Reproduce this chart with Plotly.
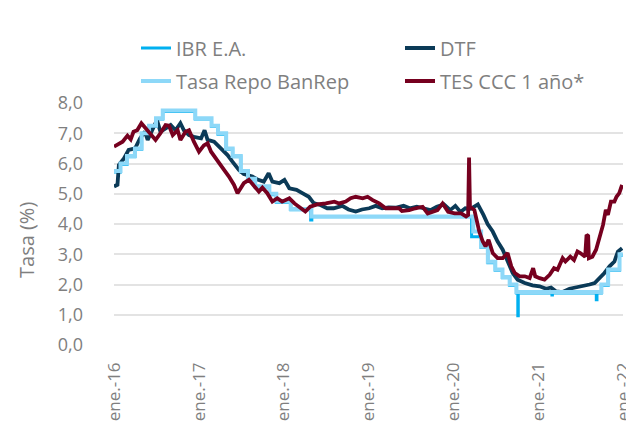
import plotly.graph_objects as go

# ---------------- data ----------------
repo_dates = ["2016-01-01", "2016-01-29", "2016-02-26", "2016-03-31", "2016-04-29", "2016-05-31",
              "2016-06-30", "2016-07-29", "2016-12-16", "2017-02-24", "2017-03-24", "2017-04-28",
              "2017-05-26", "2017-06-30", "2017-07-31", "2017-08-31", "2017-10-31", "2017-11-30",
              "2018-01-31", "2018-04-30", "2020-03-27", "2020-04-30", "2020-05-29", "2020-06-30",
              "2020-07-31", "2020-08-31", "2020-09-29", "2021-09-30", "2021-10-29", "2021-12-17",
              "2021-12-31"]
repo_vals = [5.75, 6.00, 6.25, 6.50, 7.00, 7.25, 7.50, 7.75, 7.50, 7.25, 7.00, 6.50,
             6.25, 5.75, 5.50, 5.25, 5.00, 4.75, 4.50, 4.25, 3.75, 3.25, 2.75, 2.50,
             2.25, 2.00, 1.75, 2.00, 2.50, 3.00, 3.00]

ibr_dates = ["2016-01-01", "2016-01-29", "2016-02-26", "2016-03-31", "2016-04-29", "2016-05-31",
             "2016-06-30", "2016-07-29", "2016-12-16", "2017-02-24", "2017-03-24", "2017-04-28",
             "2017-05-26", "2017-06-30", "2017-07-31", "2017-08-31", "2017-10-31", "2017-11-30",
             "2018-01-31", "2018-04-27", "2018-05-02", "2020-03-20", "2020-04-30", "2020-05-29",
             "2020-06-30", "2020-07-31", "2020-08-31", "2020-09-29", "2020-10-05", "2020-10-07",
             "2021-03-01", "2021-03-03", "2021-09-08", "2021-09-11", "2021-09-30", "2021-10-29",
             "2021-12-17", "2021-12-31"]
ibr_vals = [5.72, 5.97, 6.22, 6.47, 6.97, 7.22, 7.47, 7.72, 7.47, 7.22, 6.97, 6.47,
            6.22, 5.72, 5.47, 5.22, 4.97, 4.72, 4.47, 4.13, 4.24, 3.58, 3.22, 2.72,
            2.47, 2.22, 1.97, 1.72, 0.97, 1.72, 1.65, 1.72, 1.50, 1.72, 1.97, 2.47,
            2.97, 2.97]

dtf_dates = ["2016-01-01", "2016-01-16", "2016-01-22", "2016-02-13", "2016-03-04", "2016-04-01",
             "2016-04-22", "2016-05-13", "2016-05-25", "2016-06-16", "2016-07-04", "2016-07-19",
             "2016-08-10", "2016-09-01", "2016-09-22", "2016-10-13", "2016-10-28", "2016-11-19",
             "2016-12-10", "2017-01-10", "2017-01-25", "2017-02-07", "2017-03-07", "2017-04-04",
             "2017-05-04", "2017-05-25", "2017-06-22", "2017-07-13", "2017-07-28", "2017-08-19",
             "2017-09-13", "2017-10-07", "2017-10-28", "2017-11-13", "2017-12-13", "2018-01-04",
             "2018-01-25", "2018-02-25", "2018-03-22", "2018-04-19", "2018-05-10", "2018-06-10",
             "2018-07-07", "2018-08-04", "2018-09-10", "2018-10-07", "2018-11-07", "2018-12-04",
             "2019-01-04", "2019-02-01", "2019-03-01", "2019-03-28", "2019-05-01", "2019-06-01",
             "2019-06-28", "2019-07-28", "2019-08-25", "2019-09-25", "2019-10-22", "2019-11-22",
             "2019-12-19", "2020-01-10", "2020-02-01", "2020-02-22", "2020-03-16", "2020-04-16",
             "2020-05-10", "2020-05-28", "2020-06-19", "2020-07-10", "2020-08-01", "2020-08-22",
             "2020-09-13", "2020-10-04", "2020-11-04", "2020-12-07", "2021-01-07", "2021-02-04",
             "2021-02-25", "2021-03-19", "2021-04-16", "2021-05-16", "2021-06-13", "2021-07-10",
             "2021-08-10", "2021-09-01", "2021-09-22", "2021-10-13", "2021-11-04", "2021-11-25",
             "2021-12-10", "2021-12-28"]
dtf_vals = [5.24, 5.30, 5.95, 6.17, 6.45, 6.50,
            6.83, 7.05, 6.78, 7.16, 7.44, 7.05,
            7.16, 7.27, 7.10, 7.33, 7.10, 6.94,
            6.88, 6.83, 7.10, 6.78, 6.72, 6.50,
            6.28, 6.06, 5.79, 5.65, 5.62, 5.57,
            5.46, 5.40, 5.68, 5.40, 5.35, 5.46,
            5.18, 5.13, 5.02, 4.90, 4.69, 4.62,
            4.52, 4.52, 4.60, 4.48, 4.41, 4.48,
            4.52, 4.60, 4.52, 4.55, 4.54, 4.60,
            4.52, 4.57, 4.52, 4.46, 4.57, 4.65,
            4.46, 4.60, 4.40, 4.52, 4.50, 4.65,
            4.30, 4.00, 3.75, 3.42, 3.15, 2.76,
            2.38, 2.16, 2.05, 1.97, 1.94, 1.86,
            1.90, 1.77, 1.75, 1.86, 1.90, 1.97,
            2.00, 2.05, 2.21, 2.38, 2.60, 2.76,
            3.09, 3.20]

tes_dates = ["2016-01-01", "2016-02-07", "2016-02-28", "2016-03-13", "2016-03-25", "2016-04-10",
             "2016-04-28", "2016-05-13", "2016-06-07", "2016-06-28", "2016-07-19", "2016-08-10",
             "2016-08-25", "2016-09-10", "2016-10-01", "2016-10-13", "2016-11-04", "2016-11-19",
             "2016-12-10", "2017-01-01", "2017-01-22", "2017-02-07", "2017-02-22", "2017-03-13",
             "2017-04-04", "2017-04-19", "2017-05-10", "2017-06-01", "2017-06-16", "2017-06-28",
             "2017-07-13", "2017-08-04", "2017-08-25", "2017-09-16", "2017-10-01", "2017-10-22",
             "2017-11-13", "2017-12-04", "2017-12-25", "2018-01-25", "2018-02-16", "2018-03-07",
             "2018-04-04", "2018-04-25", "2018-05-25", "2018-07-01", "2018-08-07", "2018-08-28",
             "2018-09-25", "2018-10-16", "2018-11-07", "2018-12-07", "2018-12-28", "2019-01-19",
             "2019-02-16", "2019-03-16", "2019-04-13", "2019-05-13", "2019-05-25", "2019-06-25",
             "2019-07-22", "2019-08-22", "2019-09-13", "2019-10-04", "2019-10-25", "2019-11-16",
             "2019-12-10", "2020-01-07", "2020-02-04", "2020-02-25", "2020-03-05", "2020-03-09",
             "2020-03-13", "2020-04-01", "2020-04-10", "2020-04-22", "2020-05-07", "2020-05-19",
             "2020-06-01", "2020-06-19", "2020-07-10", "2020-08-01", "2020-08-22", "2020-09-07",
             "2020-09-22", "2020-10-13", "2020-11-04", "2020-11-25", "2020-12-10", "2020-12-19",
             "2021-01-07", "2021-01-28", "2021-02-19", "2021-03-10", "2021-03-25", "2021-04-16",
             "2021-04-28", "2021-05-19", "2021-06-04", "2021-06-19", "2021-07-01", "2021-07-22",
             "2021-07-28", "2021-08-04", "2021-08-07", "2021-08-22", "2021-09-07", "2021-09-22",
             "2021-10-07", "2021-10-19", "2021-10-28", "2021-11-10", "2021-11-25", "2021-12-04",
             "2021-12-16", "2021-12-28"]
tes_vals = [6.56, 6.72, 6.92, 6.80, 7.05, 7.10,
            7.33, 7.20, 6.94, 6.78, 7.00, 7.27,
            7.25, 6.94, 7.10, 6.78, 7.05, 7.10,
            6.72, 6.39, 6.60, 6.67, 6.39, 6.17,
            5.95, 5.79, 5.57, 5.29, 5.02, 5.15,
            5.35, 5.46, 5.29, 5.07, 5.20, 5.02,
            4.74, 4.85, 4.74, 4.85, 4.68, 4.57,
            4.41, 4.57, 4.65, 4.68, 4.74, 4.68,
            4.74, 4.85, 4.90, 4.85, 4.90, 4.79,
            4.68, 4.52, 4.52, 4.52, 4.43, 4.46,
            4.52, 4.57, 4.35, 4.40, 4.46, 4.68,
            4.40, 4.35, 4.35, 4.25, 4.30, 6.20,
            4.57, 4.46, 4.13, 3.75, 3.42, 3.26,
            3.48, 3.04, 2.87, 2.87, 3.04, 2.60,
            2.38, 2.27, 2.27, 2.21, 2.54, 2.27,
            2.21, 2.16, 2.32, 2.54, 2.49, 2.87,
            2.76, 2.92, 2.81, 3.09, 3.04, 2.92,
            3.64, 3.60, 2.87, 2.92, 3.15, 3.53,
            3.97, 4.47, 4.30, 4.74, 4.74, 4.90,
            5.02, 5.29]

year_ticks = ["2016-01-01", "2017-01-01", "2018-01-01", "2019-01-01", "2020-01-01",
              "2021-01-01", "2022-01-01"]
year_labels = ["ene.-16", "ene.-17", "ene.-18", "ene.-19", "ene.-20", "ene.-21", "ene.-22"]

# ---------------- figure ----------------
FONT = "Open Sans"
GREY = "#7F7F7F"
W, H = 634, 426
ML, MR, MT, MB = 106, 19, 95, 89
PW, PH = W - ML - MR, H - MT - MB

fig = go.Figure()
fig.add_trace(go.Scatter(x=ibr_dates, y=ibr_vals, name="IBR E.A.", mode="lines",
                         line=dict(color="#00B0F0", width=3, shape="hv"), legend="legend"))
fig.add_trace(go.Scatter(x=dtf_dates, y=dtf_vals, name="DTF", mode="lines",
                         line=dict(color="#0B3A57", width=3.8), legend="legend2"))
fig.add_trace(go.Scatter(x=repo_dates, y=repo_vals, name="Tasa Repo BanRep", mode="lines",
                         line=dict(color="#8DD8F8", width=4, shape="hv"), legend="legend3"))
fig.add_trace(go.Scatter(x=tes_dates, y=tes_vals, name="TES CCC 1 año*", mode="lines",
                         line=dict(color="#76001F", width=3.8), legend="legend4"))


def leg(px, py):
    return dict(orientation="h", xref="container", yref="container",
                x=px / W, y=1 - py / H, xanchor="left", yanchor="middle",
                font=dict(family=FONT, size=20, color=GREY),
                bgcolor="rgba(0,0,0,0)", borderwidth=0)


fig.update_layout(
    width=W, height=H,
    margin=dict(l=ML, r=MR, t=MT, b=MB, autoexpand=False),
    paper_bgcolor="white", plot_bgcolor="white",
    separators=",.",
    font=dict(family=FONT, color=GREY),
    showlegend=True,
    legend=leg(128, 40),
    legend2=leg(392, 40),
    legend3=leg(128, 73),
    legend4=leg(392, 73),
    xaxis=dict(type="date", range=["2016-01-01", "2022-01-01"],
               tickmode="array", tickvals=year_ticks, ticktext=year_labels,
               tickangle=-90, showgrid=False, zeroline=False, showline=False,
               ticks="", ticklabelstandoff=13,
               tickfont=dict(family=FONT, size=17, color=GREY)),
    yaxis=dict(range=[0, 8], dtick=1, tickformat=".1f", showgrid=True,
               gridcolor="#E3E3E3", gridwidth=1.5, zeroline=False, showline=False,
               ticks="", ticklabelstandoff=30,
               tickfont=dict(family=FONT, size=18, color=GREY)),
    annotations=[dict(text="Tasa (%)", textangle=-90, xref="paper", yref="paper",
                      x=(18 - ML) / PW, y=(H - MB - 232) / PH, xanchor="center", yanchor="middle",
                      showarrow=False, font=dict(family=FONT, size=20, color=GREY))],
)

fig.write_html("out.html")
